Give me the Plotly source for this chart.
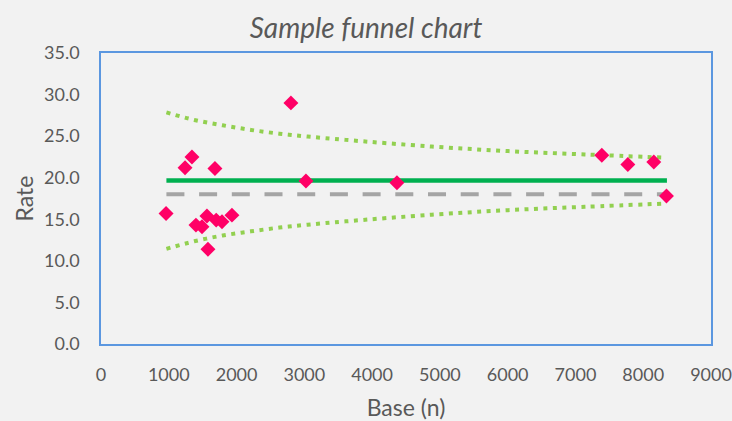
import plotly.graph_objects as go

# Data points (Base n, Rate)
base_n = [960, 1240, 1342, 1681, 2802, 3024, 4366, 7389, 7773, 8156, 8343,
          1401, 1490, 1563, 1578, 1700, 1785, 1932]
rate = [15.7, 21.2, 22.5, 21.1, 29.0, 19.6, 19.4, 22.7, 21.6, 21.9, 17.8,
        14.3, 14.1, 15.4, 11.4, 14.9, 14.7, 15.5]

# Reference lines
line_x = [965, 8350]
mean_rate = [19.65, 19.65]
target_rate = [18.0, 18.0]

# Control limits
limit_n = [965, 1376, 1795, 2212, 2630, 3048, 3609, 4882, 6008, 7139, 8350]
upper = [27.85, 26.95, 26.3, 25.75, 25.3, 24.95, 24.55, 23.75, 23.2, 22.8, 22.4]
lower = [11.45, 12.35, 13.05, 13.55, 14.0, 14.35, 14.75, 15.55, 16.1, 16.5, 16.9]

x_ticks = list(range(0, 9001, 1000))
y_ticks = [0, 5, 10, 15, 20, 25, 30, 35]

fig = go.Figure()
fig.add_trace(go.Scatter(x=limit_n, y=upper, mode="lines", line_shape="spline",
                         line=dict(color="#92D050", width=4, dash="4px,5.5px"),
                         hoverinfo="skip", showlegend=False))
fig.add_trace(go.Scatter(x=limit_n, y=lower, mode="lines", line_shape="spline",
                         line=dict(color="#92D050", width=4, dash="4px,5.5px"),
                         hoverinfo="skip", showlegend=False))
fig.add_trace(go.Scatter(x=line_x, y=target_rate, mode="lines",
                         line=dict(color="#A5A5A5", width=4, dash="18px,14.7px"),
                         showlegend=False))
fig.add_trace(go.Scatter(x=line_x, y=mean_rate, mode="lines",
                         line=dict(color="#00B050", width=4.5),
                         showlegend=False))
fig.add_trace(go.Scatter(x=base_n, y=rate, mode="markers",
                         marker=dict(symbol="diamond", size=11.5, color="#FF0066",
                                     line=dict(width=0)),
                         showlegend=False))

font_family = "Lato, 'Open Sans', sans-serif"
fig.update_layout(
    width=732, height=421,
    margin=dict(l=101, r=21, t=53, b=77),
    paper_bgcolor="#F2F2F2", plot_bgcolor="#F2F2F2",
    font=dict(family=font_family, color="#595959", size=18),
    title=dict(text="<i>Sample funnel chart</i>", x=0.5, xanchor="center",
               y=1 - 28 / 421, yanchor="middle",
               font=dict(size=28, color="#595959", family=font_family)),
    xaxis=dict(range=[0, 9000], tickvals=x_ticks, ticktext=[str(v) for v in x_ticks],
               showgrid=False, zeroline=False, showline=True, mirror=True,
               linecolor="#5B97E0", linewidth=1.5, ticks="", ticklabelstandoff=14,
               ticklabeloverflow="allow", automargin=False,
               title=dict(text="Base (n)", font=dict(size=23), standoff=19)),
    yaxis=dict(range=[0, 35], tickvals=y_ticks, ticktext=[f"{v:.1f}" for v in y_ticks],
               showgrid=False, zeroline=False, showline=True, mirror=True,
               linecolor="#5B97E0", linewidth=1.5, ticks="", ticklabelstandoff=16,
               automargin=False,
               title=dict(text="Rate", font=dict(size=23), standoff=4)),
)

fig.write_html("out.html", config={"displayModeBar": False},
               post_script="document.body.style.margin='0';")
